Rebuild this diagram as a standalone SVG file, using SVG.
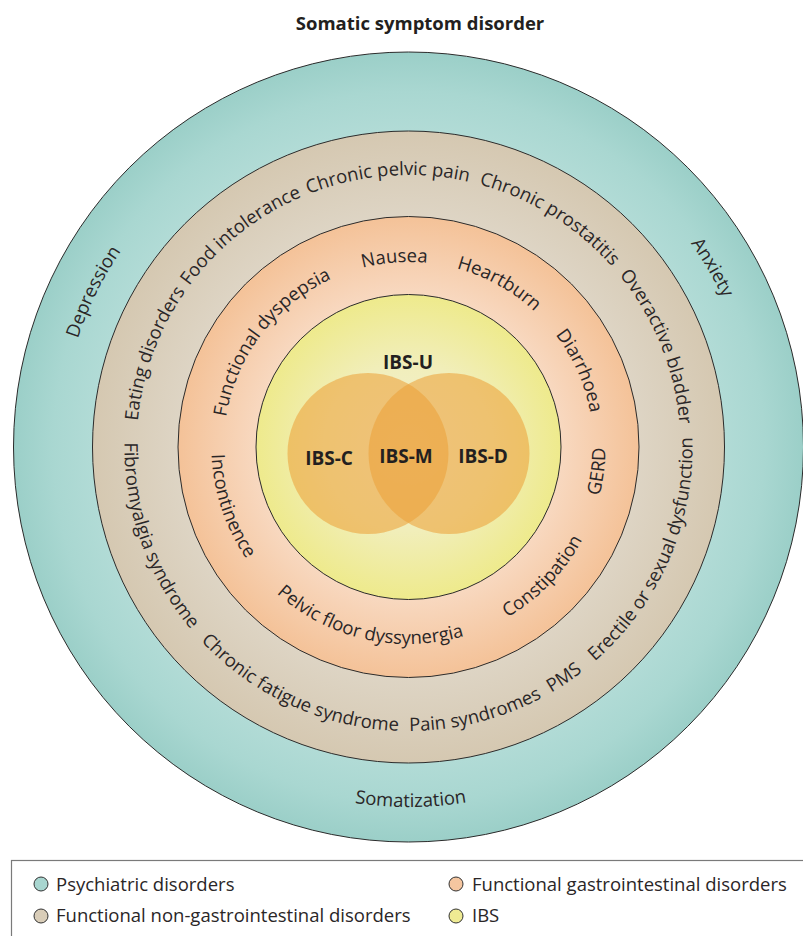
<svg xmlns="http://www.w3.org/2000/svg" width="803" height="936" viewBox="0 0 803 936">
  <style>
    .lbl { font-family: "Open Sans", "Liberation Sans", sans-serif; font-size: 18.5px; fill: #2a2627; }
    .ibs { font-family: "Open Sans", "Liberation Sans", sans-serif; font-size: 19px; font-weight: 700; fill: #231f20; text-anchor: middle; }
    .title { font-family: "Open Sans", "Liberation Sans", sans-serif; font-size: 18.5px; font-weight: 700; fill: #231f20; text-anchor: middle; }
    .ring { stroke: #2b2b2b; stroke-width: 1; }
    .venn { fill: #eca23a; fill-opacity: 0.58; }
    .key { stroke: #333; stroke-width: 1; }
  </style>
  <defs>
    <radialGradient id="gTeal" gradientUnits="userSpaceOnUse" cx="408.5" cy="447" r="395">
      <stop offset="0.78" stop-color="#b3dcd7"/>
      <stop offset="0.9" stop-color="#a9d7d1"/>
      <stop offset="1" stop-color="#9bcfc8"/>
    </radialGradient>
    <radialGradient id="gBeige" gradientUnits="userSpaceOnUse" cx="408.5" cy="447" r="316">
      <stop offset="0.72" stop-color="#ded5c5"/>
      <stop offset="1" stop-color="#d5c8b1"/>
    </radialGradient>
    <radialGradient id="gOrange" gradientUnits="userSpaceOnUse" cx="408.5" cy="447" r="230.5">
      <stop offset="0.65" stop-color="#f8d9c1"/>
      <stop offset="1" stop-color="#f4c298"/>
    </radialGradient>
    <radialGradient id="gYellow" gradientUnits="userSpaceOnUse" cx="408.5" cy="447" r="152.5">
      <stop offset="0" stop-color="#f2f0d6"/>
      <stop offset="0.55" stop-color="#f1eeba"/>
      <stop offset="1" stop-color="#eeea8c"/>
    </radialGradient>
    <path id="cwT" d="M408.5,795 A348,348 0 1 1 408.5,99 A348,348 0 1 1 408.5,795"/>
    <path id="cwB" d="M408.5,719 A272,272 0 1 1 408.5,175 A272,272 0 1 1 408.5,719"/>
    <path id="cwO" d="M408.5,632 A185,185 0 1 1 408.5,262 A185,185 0 1 1 408.5,632"/>
    <path id="ccT" d="M408.5,87 A360,360 0 1 0 408.5,807 A360,360 0 1 0 408.5,87"/>
    <path id="ccB" d="M408.5,163 A284,284 0 1 0 408.5,731 A284,284 0 1 0 408.5,163"/>
    <path id="ccO" d="M408.5,250 A197,197 0 1 0 408.5,644 A197,197 0 1 0 408.5,250"/>
  </defs>

  <rect width="803" height="936" fill="#ffffff"/>

  <text id="title" class="title" x="420" y="30">Somatic symptom disorder</text>

  <g id="psychiatric">
    <circle class="ring" cx="408.5" cy="447" r="395" fill="url(#gTeal)"/>
    <text class="lbl" text-anchor="middle"><textPath href="#cwT" startOffset="32.28%">Depression</textPath></text>
    <text class="lbl" text-anchor="middle"><textPath href="#cwT" startOffset="66.5%">Anxiety</textPath></text>
    <text class="lbl" text-anchor="middle"><textPath href="#ccT" startOffset="50.1%">Somatization</textPath></text>
  </g>

  <g id="functional-non-gi">
    <circle class="ring" cx="408.5" cy="447" r="316" fill="url(#gBeige)"/>
    <text class="lbl" text-anchor="middle"><textPath href="#cwB" startOffset="30.61%">Eating disorders</textPath></text>
    <text class="lbl" text-anchor="middle"><textPath href="#cwB" startOffset="39.33%">Food intolerance</textPath></text>
    <text class="lbl" text-anchor="middle"><textPath href="#cwB" startOffset="48.78%">Chronic pelvic pain</textPath></text>
    <text class="lbl" text-anchor="middle"><textPath href="#cwB" startOffset="58.81%">Chronic prostatitis</textPath></text>
    <text class="lbl" text-anchor="middle"><textPath href="#cwB" startOffset="68.89%">Overactive bladder</textPath></text>
    <text class="lbl" text-anchor="middle"><textPath href="#ccB" startOffset="30.42%">Fibromyalgia syndrome</textPath></text>
    <text class="lbl" text-anchor="middle"><textPath href="#ccB" startOffset="43.19%">Chronic fatigue syndrome</textPath></text>
    <text class="lbl" text-anchor="middle"><textPath href="#ccB" startOffset="53.92%">Pain syndromes</textPath></text>
    <text class="lbl" text-anchor="middle"><textPath href="#ccB" startOffset="59.44%">PMS</textPath></text>
    <text class="lbl" text-anchor="middle"><textPath href="#ccB" startOffset="68.47%">Erectile or sexual dysfunction</textPath></text>
  </g>

  <g id="functional-gi">
    <circle class="ring" cx="408.5" cy="447" r="230.5" fill="url(#gOrange)"/>
    <text class="lbl" text-anchor="middle"><textPath href="#cwO" startOffset="35.39%">Functional dyspepsia</textPath></text>
    <text class="lbl" text-anchor="middle"><textPath href="#cwO" startOffset="48.81%">Nausea</textPath></text>
    <text class="lbl" text-anchor="middle"><textPath href="#cwO" startOffset="58.06%">Heartburn</textPath></text>
    <text class="lbl" text-anchor="middle"><textPath href="#cwO" startOffset="68.33%">Diarrhoea</textPath></text>
    <text class="lbl" text-anchor="middle"><textPath href="#ccO" startOffset="30.11%">Incontinence</textPath></text>
    <text class="lbl" text-anchor="middle"><textPath href="#ccO" startOffset="46.44%">Pelvic floor dyssynergia</textPath></text>
    <text class="lbl" text-anchor="middle"><textPath href="#ccO" startOffset="62.78%">Constipation</textPath></text>
    <text class="lbl" text-anchor="middle"><textPath href="#ccO" startOffset="72.97%">GERD</textPath></text>
  </g>

  <g id="ibs">
    <circle class="ring" cx="408.5" cy="447" r="152.5" fill="url(#gYellow)"/>
    <circle class="venn" cx="368" cy="453.5" r="80.5"/>
    <circle class="venn" cx="449" cy="453.5" r="80.5"/>
    <text class="ibs" x="408" y="369">IBS-U</text>
    <text class="ibs" x="329" y="465">IBS-C</text>
    <text class="ibs" x="406" y="463">IBS-M</text>
    <text class="ibs" x="483" y="463">IBS-D</text>
  </g>

  <g id="legend">
    <rect x="11.5" y="860.5" width="805" height="100" fill="#ffffff" stroke="#7a7a7a" stroke-width="1.2"/>
    <circle class="key" cx="41" cy="884" r="7" fill="#a8d6d0"/>
    <text class="lbl" x="56" y="891">Psychiatric disorders</text>
    <circle class="key" cx="41" cy="916" r="7" fill="#d9cdb8"/>
    <text class="lbl" x="56" y="922">Functional non-gastrointestinal disorders</text>
    <circle class="key" cx="456" cy="884" r="7" fill="#f5c6a0"/>
    <text class="lbl" x="472" y="891">Functional gastrointestinal disorders</text>
    <circle class="key" cx="456" cy="916" r="7" fill="#efeb93"/>
    <text class="lbl" x="472" y="922">IBS</text>
  </g>
</svg>
